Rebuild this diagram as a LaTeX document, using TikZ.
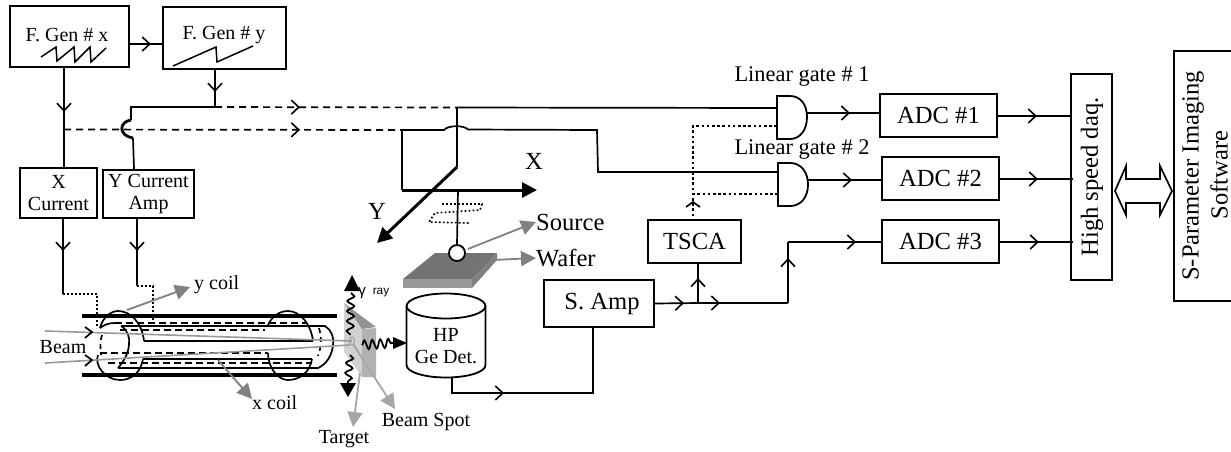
\documentclass[tikz,border=0pt]{standalone}
\usepackage{fontspec}
\setmainfont{Liberation Serif}
\newfontfamily\lsans{Liberation Sans}
\usetikzlibrary{arrows.meta,calc,decorations.markings,decorations.pathmorphing}
\newcommand{\fsA}{\fontsize{20}{22}\selectfont}
\newcommand{\fsB}{\fontsize{24.6}{27}\selectfont}
\newcommand{\fsC}{\fontsize{22.4}{25}\selectfont}
\tikzset{
  chevtip/.tip={Straight Barb[length=7.5pt,width=14pt,line width=1.6pt]},
  mk/.style={postaction={decorate,decoration={markings,mark=at position #1pt with {\arrow{chevtip}}}}},
  wire/.style={line width=1.7pt,black},
  dashwire/.style={wire,dash pattern=on 7pt off 5pt},
  tubedash/.style={wire,dash pattern=on 7pt off 4pt},
  dotwire/.style={line width=1.6pt,dash pattern=on 1.8pt off 2.2pt},
  dotbig/.style={line width=2.2pt,dash pattern=on 2.6pt off 2.6pt},
  bx/.style={draw,line width=1.8pt,inner sep=0pt,align=center},
  tA/.style={inner sep=0pt,font=\fsA,align=center},
  tB/.style={inner sep=0pt,font=\fsB,align=center},
  tC/.style={inner sep=0pt,font=\fsC,align=center},
  grayarrow/.style={draw=#1,line width=1.8pt,-{Triangle[length=15pt,width=15pt,fill=#1]}},
  axisarrow/.style={line width=3pt,-{Triangle[length=15pt,width=15pt]}},
  tube/.style={line width=3.8pt},
  beamline/.style={draw=gray!80,line width=1.6pt},
  squig/.style={line width=1.8pt,decorate,decoration={snake,amplitude=3.5pt,segment length=10pt}},
  squigb/.style={line width=1.8pt,decorate,decoration={snake,amplitude=4.5pt,segment length=8pt}}
}
\begin{document}
\begin{tikzpicture}[x=1pt,y=-1pt]
\useasboundingbox (0,0) rectangle (1231,451);

% target and wafer solids
\fill[gray!35] (344,304) -- (362,329) -- (362,377) -- (344,352) -- cycle;
\fill[gray!60] (362,329) -- (376,328) -- (376,377) -- (362,377) -- cycle;
\fill[gray!85] (344,303) -- (376,327) -- (362,329) -- cycle;
\fill[black!55] (403,279) -- (435,253) -- (497,253) -- (472,279) -- cycle;
\fill[black!40] (403,279) -- (472,279) -- (472,288) -- (403,288) -- cycle;
\fill[black!50] (472,279) -- (497,253) -- (497,260) -- (472,288) -- cycle;

% boxes
\node[bx,minimum width=119pt,minimum height=61pt] (fx) at (69.5,36.5) {};
\node[tA] (fxt) at (67,35) {F. Gen \# x};
\node[bx,minimum width=123pt,minimum height=62pt] (fy) at (224.5,38) {};
\node[tA] (fyt) at (224,35) {F. Gen \# y};
\node[bx,minimum width=77pt,minimum height=50pt,font=\fsA] (xc) at (58.5,193) {X\\Current};
\node[bx,minimum width=91pt,minimum height=48pt,font=\fsA] (yc) at (148.5,194) {Y Current\\Amp};
\node[bx,minimum width=93pt,minimum height=43pt,font=\fsB] (tsca) at (694.5,241.5) {TSCA};
\node[bx,minimum width=110pt,minimum height=47pt,font=\fsB] (samp) at (599,303.5) {\hspace{6pt}S. Amp};
\node[bx,minimum width=117pt,minimum height=43pt,font=\fsB] (adca) at (938.5,115.5) {ADC \#1};
\node[bx,minimum width=117pt,minimum height=43pt,font=\fsB] (adcb) at (940.5,178.5) {ADC \#2};
\node[bx,minimum width=117pt,minimum height=43pt,font=\fsB] (adcc) at (940.5,241.5) {ADC \#3};
\node[bx,minimum width=41pt,minimum height=206pt] (daq) at (1091.5,177) {};
\node[tB,rotate=90] (daqt) at (1092,177) {High speed daq.};
\draw[line width=1.8pt] (1231,51) -- (1174,51) -- (1174,301) -- (1231,301);
\node[tB,rotate=90] (spa) at (1193,176) {S-Parameter Imaging};
\node[tB,rotate=90] (spb) at (1219,175) {Software};

% double arrow
\draw[line width=1.7pt] (1115,191) -- (1126,166) -- (1126,179) -- (1160,179) -- (1160,166) -- (1172,191) -- (1160,215) -- (1160,203) -- (1126,203) -- (1126,215) -- cycle;

% sawteeth
\draw[line width=1.5pt] (41,57) -- (56,47) -- (57,61) -- (74,47) -- (75,62) -- (90,47) -- (91,62) -- (106,48);
\draw[line width=1.5pt] (173,66) -- (216,47) -- (217,62) -- (253,46);

% named junctions
\coordinate (jya) at (215,107);
\coordinate (jxa) at (64,129.5);
\coordinate (jc) at (457,107.5);
\coordinate (jd) at (402,130);
\coordinate (orig) at (457,167);
\coordinate (yend) at (377,243);
\coordinate (xstart) at (402,190);
\coordinate (xend) at (537,190);
\coordinate (srcTop) at (458,190);
\coordinate (gAa) at (777,108);
\coordinate (gAb) at (777,126);
\coordinate (gBa) at (778,172);
\coordinate (gBb) at (778,194);
\coordinate (gAo) at (807,113);
\coordinate (gBo) at (808,180);
\coordinate (jt) at (693,194);
\coordinate (ja) at (698,303);
\coordinate (jb) at (788,303);
\coordinate (ce) at (788,242);

% top wires
\draw[wire,mk=21] (fx.east |- 0,44) -- (fy.west |- 0,44);
\draw[wire,mk=44] (64,0 |- fx.south) -- (64,0 |- xc.north);
\draw[wire,mk=22] (215,0 |- fy.south) -- (jya);
\draw[wire] (jya) -- (131,107) -- (131,120);
\draw[wire] (134,0 |- yc.north) -- (133,138);
\draw[line width=2.8pt] (131,120) .. controls (118,122) and (119,136) .. (133,138);
\draw[dashwire,mk=85] (jya) -- (jc);
\draw[dashwire,mk=236] (jxa) -- (jd);
\draw[wire] (jc) -- (gAa);
\draw[wire] (jc) -- (orig);
\draw[wire] (jd) -- (444,130) .. controls (448,125) and (464,125) .. (468,129.5) -- (597,130) -- (598,172) -- (gBa);
\draw[wire] (jd) -- (xstart);
\draw[axisarrow] (xstart) -- (xend);
\draw[axisarrow] (orig) -- (yend);
\node[tB] (lx) at (534,161) {X};
\node[tB] (ly) at (377,211) {Y};

% source
\node[draw,circle,fill=white,line width=1.8pt,minimum size=16pt,inner sep=0pt] (src) at (457,253) {};
\draw[wire] (srcTop) -- (src.north);
\draw[dotwire] (442,204) -- (482,204) -- (480,210) -- (435,213) -- (429,222) -- (470,223);
\node[tB,anchor=west] (lsrc) at (536,222) {Source};
\node[tB,anchor=west] (lwaf) at (536,258) {Wafer};
\draw[grayarrow=gray] (src.east) ++(2,-4) -- (lsrc.west);
\coordinate (wafedge) at (492,260);
\draw[grayarrow=gray] (wafedge) -- (lwaf.west);

% gates
\draw[line width=1.8pt,fill=white] (777,96) -- (790,96) .. controls (800,96) and (807,104) .. (807,117) .. controls (807,130) and (800,139) .. (790,139) -- (777,139) -- cycle;
\draw[line width=1.8pt,fill=white] (778,163) -- (790,163) .. controls (801,163) and (808,172) .. (808,184.5) .. controls (808,197) and (801,206) .. (790,206) -- (778,206) -- cycle;
\node[tC] (lga) at (802,76) {Linear gate \# 1};
\node[tC] (lgb) at (802,149) {Linear gate \# 2};
\draw[wire,mk=43] (gAo) -- (adca.west |- gAo);
\draw[wire,mk=44] (gBo) -- (adcb.west |- gBo);
\draw[dotbig] (gAb) -- (693,126) -- (693,0 |- tsca.north);
\draw[dotbig] (gBb) -- (jt);
\draw[line width=1.7pt] (686,207) -- (693,202) -- (700,207);

% right side
\draw[wire,mk=39] (adca.east |- 0,116) -- (daq.west |- 0,116);
\draw[wire,mk=38] (adcb.east |- 0,179) -- (1073,179);
\draw[wire,mk=39] (adcc.east |- 0,242) -- (1073,242);

% amp
\draw[wire,mk=29] (samp.east) -- (ja);
\draw[wire,mk=22,line width=2pt] (ja) -- (jb);
\draw[wire,mk=25,line width=2pt] (ja) -- (698,0 |- tsca.south);
\draw[wire,mk=45,line width=2pt] (jb) -- (ce);
\draw[wire,mk=68] (ce) -- (adcc.west |- ce);

% detector
\draw[line width=1.8pt] (446,306) ellipse [x radius=39.5,y radius=12.5];
\draw[line width=1.8pt] (406.5,306) -- (406.5,365) .. controls (406.5,372) and (424,377.5) .. (446,377.5) .. controls (468,377.5) and (485.5,372) .. (485.5,365) -- (485.5,306);
\node[tA] (det) at (446,346) {HP\\Ge Det.};
\coordinate (detout) at (452,377);
\draw[wire,mk=68] (detout) -- (452,393) -- (593,393) -- (593,0 |- samp.south);

% coil feeds
\draw[wire,mk=32] (63,0 |- xc.south) -- (63,294);
\draw[dotwire] (63,294) -- (97,294) -- (97,328);
\draw[wire,mk=32] (137,0 |- yc.south) -- (137,286);
\draw[dotwire] (137,286) -- (153,286) -- (153,324);

% tube
\draw[tube] (82,316) -- (337,316);
\draw[tube] (82,375) -- (337,375);
\draw[wire] (121,326) -- (325,326) .. controls (331,330) and (334,336) .. (333,345) .. controls (332,355) and (327,364) .. (318,368) -- (118,368);
\draw[wire] (144,341) -- (313,341);
\draw[wire] (143,359) -- (312,359);
\draw[tubedash] (115,323) -- (307,323);
\draw[tubedash] (120,330) -- (265,330);
\draw[tubedash] (100,353) -- (268,353);
\draw[tubedash] (108,363) -- (312,363);
% left coil
\draw[wire] (100,328) .. controls (103,316) and (112,311) .. (118,311) .. controls (130,311) and (142,322) .. (144,341);
\draw[wire] (98,355) .. controls (94,365) and (105,380) .. (120,380) .. controls (132,380) and (141,372) .. (143,359);
\draw[wire] (121,326) .. controls (128,330) and (130,338) .. (129,345) .. controls (128,355) and (123,362) .. (118,368);
\draw[wire] (100,328) .. controls (104,325) and (108,323) .. (115,323);
\draw[wire,dash pattern=on 5pt off 4pt] (102,335) .. controls (100,341) and (100,348) .. (101,355);
% right coil
\draw[wire] (268,325) .. controls (272,316) and (280,311) .. (288,311) .. controls (300,311) and (311,324) .. (313,341);
\draw[wire] (268,353) .. controls (268,368) and (278,380) .. (288,380) .. controls (300,380) and (310,372) .. (312,359);
\draw[wire,dash pattern=on 5pt off 4pt] (319,328) .. controls (322,338) and (321,348) .. (318,356);

% beam
\coordinate (bsp) at (352,341);
\coordinate (bua) at (45,331);
\coordinate (bla) at (45,363);
\draw[beamline] (bua) -- (bsp);
\draw[beamline] (bla) -- (350,345);
\draw[line width=1.7pt] (85,327) -- (92,332) -- (85,338);
\draw[line width=1.7pt] (85,355) -- (92,360) -- (85,366);
\node[tA] (lbeam) at (63,347) {Beam};
\draw[draw=gray!75,line width=1pt] (bsp) ellipse [x radius=2.5,y radius=4];

% labels with gray pointers
\node[tA,anchor=west] (lyc) at (194,285) {y coil};
\node[tA,anchor=west] (lxc) at (252,403) {x coil};
\coordinate (yp) at (127,310);
\coordinate (xp) at (218,360);
\draw[grayarrow=gray] (yp) -- (190,287);
\draw[grayarrow=gray] (xp) -- (252,399);
\node[tA] (lspot) at (426,422) {Beam Spot};
\node[tA] (ltar) at (344,439) {Target};
\coordinate (tp) at (360,373);
\draw[grayarrow=gray!70] (tp) -- (353,427);
\draw[grayarrow=gray!70] (353,344) -- (395,409);

% gamma rays
\draw[squig] (351,293) -- (350,335);
\draw[squig] (350,355) -- (348,383);
\draw[squigb] (362,345) -- (393,343);
\fill (352,275) -- (360,291) -- (344,291) -- cycle;
\fill (348,397) -- (340,383) -- (356,383) -- cycle;
\fill (407,343) -- (393,337) -- (393,349) -- cycle;
\node[inner sep=0pt,font=\lsans\fontsize{15}{16}\selectfont] (lgam) at (362,293) {γ};
\node[inner sep=0pt,font=\lsans\fontsize{11.8}{13}\selectfont] (lray) at (381,293) {ray};
\end{tikzpicture}
\end{document}
